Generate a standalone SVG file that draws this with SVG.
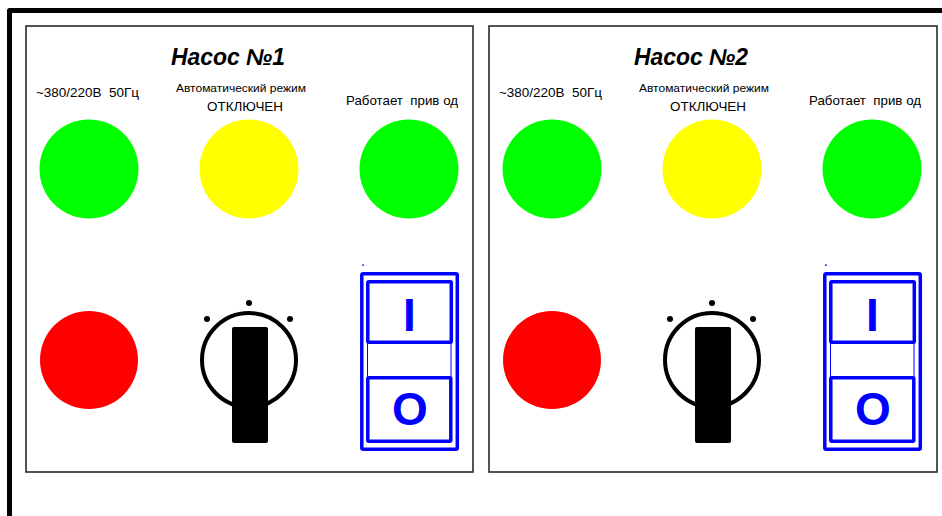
<svg xmlns="http://www.w3.org/2000/svg" width="942" height="516" viewBox="0 0 942 516">
<style>
.frame{fill:none;stroke:#000;stroke-width:5;stroke-linejoin:round}
.panel{fill:#fff;stroke:#2a2a2a;stroke-width:1.6}
.t{font-family:"Liberation Sans",Arial,sans-serif;fill:#000;text-anchor:middle;white-space:pre}
.title{font-size:23px;font-weight:bold;font-style:italic}
.lbl{font-size:13px}
.sm{font-size:10.5px}
.green{fill:#00ff00}
.yellow{fill:#ffff00}
.red{fill:#ff0000}
.knob{fill:none;stroke:#000;stroke-width:4}
.bar{fill:#000}
.dot{fill:#000}
.sw{fill:#fff;stroke:#0000ff;stroke-width:3.5;stroke-linejoin:round}
.swthin{fill:none;stroke:#0000ff;stroke-width:1}
.swt{font-family:"Liberation Sans",Arial,sans-serif;font-weight:bold;font-size:46px;fill:#0000ff;text-anchor:middle}
</style>
<rect width="942" height="516" fill="#fff"/>
<path class="frame" d="M9.5,520 V10.5 H950"/>

<g id="panel1">
  <rect class="panel" x="26" y="26" width="447" height="446"/>
  <text class="t title" x="228" y="65" textLength="114" lengthAdjust="spacingAndGlyphs">Насос №1</text>
</g>
<g id="p1-power">
  <text class="t lbl" x="87.5" y="97" textLength="103" lengthAdjust="spacingAndGlyphs" xml:space="preserve">~380/220В  50Гц</text>
  <circle class="green" cx="89" cy="169" r="49.5"/>
</g>
<g id="p1-auto">
  <text class="t sm" x="241" y="92" textLength="130" lengthAdjust="spacingAndGlyphs">Автоматический режим</text>
  <text class="t lbl" x="245" y="111" textLength="76" lengthAdjust="spacingAndGlyphs">ОТКЛЮЧЕН</text>
  <circle class="yellow" cx="249" cy="169" r="49.5"/>
</g>
<g id="p1-run">
  <text class="t lbl" x="402" y="105" textLength="112" lengthAdjust="spacingAndGlyphs" xml:space="preserve">Работает  прив од</text>
  <circle class="green" cx="409" cy="169" r="49.5"/>
</g>
<g id="p1-stop">
  <circle class="red" cx="89" cy="360" r="49"/>
</g>
<g id="p1-selector">
  <circle class="knob" cx="249" cy="360" r="47"/>
  <rect class="bar" x="232" y="327" width="36" height="116" rx="2"/>
  <circle class="dot" cx="249" cy="303" r="3"/>
  <circle class="dot" cx="207" cy="319" r="3"/>
  <circle class="dot" cx="290" cy="319" r="3"/>
</g>
<g id="p1-switch">
  <rect x="362" y="264.5" width="2" height="1.2" fill="#0000ff"/>
  <rect class="sw" x="361.8" y="273.8" width="95.5" height="175.4" rx="1.5"/>
  <rect class="swthin" x="367.5" y="282" width="83.5" height="159"/>
  <rect class="sw" x="367.8" y="281.8" width="83.5" height="60.5" rx="1"/>
  <rect class="sw" x="367.8" y="377.8" width="83" height="63.5" rx="1"/>
  <text class="swt" x="409.5" y="331">I</text>
  <text class="swt" x="410" y="425">O</text>
</g>

<g id="panel2">
  <rect class="panel" x="489" y="26" width="448" height="446"/>
  <text class="t title" x="691" y="65" textLength="114" lengthAdjust="spacingAndGlyphs">Насос №2</text>
</g>
<g id="p2-power">
  <text class="t lbl" x="550.5" y="97" textLength="103" lengthAdjust="spacingAndGlyphs" xml:space="preserve">~380/220В  50Гц</text>
  <circle class="green" cx="552" cy="169" r="49.5"/>
</g>
<g id="p2-auto">
  <text class="t sm" x="704" y="92" textLength="130" lengthAdjust="spacingAndGlyphs">Автоматический режим</text>
  <text class="t lbl" x="708" y="111" textLength="76" lengthAdjust="spacingAndGlyphs">ОТКЛЮЧЕН</text>
  <circle class="yellow" cx="712" cy="169" r="49.5"/>
</g>
<g id="p2-run">
  <text class="t lbl" x="865" y="105" textLength="112" lengthAdjust="spacingAndGlyphs" xml:space="preserve">Работает  прив од</text>
  <circle class="green" cx="872" cy="169" r="49.5"/>
</g>
<g id="p2-stop">
  <circle class="red" cx="552" cy="360" r="49"/>
</g>
<g id="p2-selector">
  <circle class="knob" cx="712" cy="360" r="47"/>
  <rect class="bar" x="695" y="327" width="36" height="116" rx="2"/>
  <circle class="dot" cx="712" cy="303" r="3"/>
  <circle class="dot" cx="670" cy="319" r="3"/>
  <circle class="dot" cx="753" cy="319" r="3"/>
</g>
<g id="p2-switch">
  <rect x="825" y="264.5" width="2" height="1.2" fill="#0000ff"/>
  <rect class="sw" x="824.8" y="273.8" width="95.5" height="175.4" rx="1.5"/>
  <rect class="swthin" x="830.5" y="282" width="83.5" height="159"/>
  <rect class="sw" x="830.8" y="281.8" width="83.5" height="60.5" rx="1"/>
  <rect class="sw" x="830.8" y="377.8" width="83" height="63.5" rx="1"/>
  <text class="swt" x="872.5" y="331">I</text>
  <text class="swt" x="873" y="425">O</text>
</g>
<g id="connectors"/>
</svg>
